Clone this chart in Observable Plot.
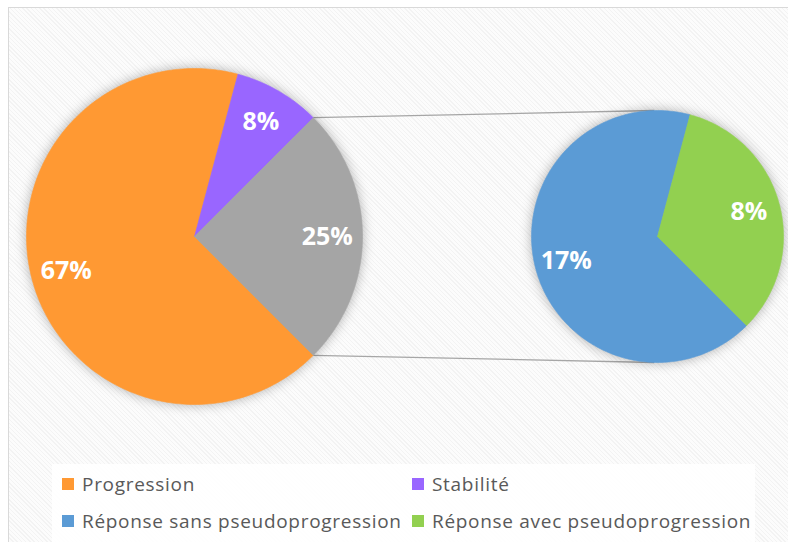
<!DOCTYPE html>
<html>
<head>
<meta charset="utf-8">
<script src="https://cdn.jsdelivr.net/npm/d3@7"></script>
<script src="https://cdn.jsdelivr.net/npm/@observablehq/plot@0.6"></script>
<style>
  html, body { margin: 0; padding: 0; width: 788px; height: 542px; overflow: hidden; background: #fff; }
  #frame {
    position: absolute; left: 8px; top: 7px; width: 800px; height: 560px;
    border: 1px solid #d9d9d9;
    background: repeating-linear-gradient(45deg, #f3f3f3 0px, #f3f3f3 1px, #fcfcfc 1px, #fcfcfc 3px);
  }
  #chart { position: absolute; left: 0; top: 0; }
  #chart g[aria-label="line"] { filter: drop-shadow(0 0 6px rgba(0,0,0,0.3)); }
  #legendbox { position: absolute; left: 52px; top: 464px; width: 703px; height: 80px; background: rgba(255,255,255,0.85); }
  .item { position: absolute; display: flex; align-items: center; font-family: "Open Sans", sans-serif; font-size: 19px; letter-spacing: 0.7px; line-height: 20px; color: #595959; white-space: nowrap; }
  .sw { width: 12px; height: 12px; margin-right: 8px; }
</style>
</head>
<body>
<div id="frame"></div>
<div id="legendbox"></div>
<div id="chart"></div>
<div id="legend"></div>
<script>
// ---- data ----
const mainCategories = ["Progression", "Stabilité", "Réponse"];
const mainValues = [8, 1, 3];
const subCategories = ["Réponse sans pseudoprogression", "Réponse avec pseudoprogression"];
const subValues = [2, 1];
const legendLabels = ["Progression", "Stabilité", "Réponse sans pseudoprogression", "Réponse avec pseudoprogression"];
const colorDomain = ["Progression", "Stabilité", "Réponse", "Réponse sans pseudoprogression", "Réponse avec pseudoprogression"];
const colorRange = ["#ff9933", "#9966ff", "#a5a5a5", "#5b9bd5", "#92d050"];

// ---- layout (units: main radius = 1) ----
const W = 788, H = 460;
const k = 168;            // px per unit
const cx0 = 194, cy0 = 236; // main pie center in px (for domain)
const subCx = 2.756, subR = 0.75;
const total = d3.sum(mainValues);
const start = 3 * Math.PI / 4;

const pie = d3.pie().sort(null).startAngle(start).endAngle(start + 2 * Math.PI);

function slicePoints(arc, name, cx, r) {
  const pts = [{name, x: cx, y: 0}];
  const n = Math.max(2, Math.ceil((arc.endAngle - arc.startAngle) / (Math.PI / 180)));
  for (let i = 0; i <= n; i++) {
    const a = arc.startAngle + (arc.endAngle - arc.startAngle) * i / n;
    pts.push({name, x: cx + r * Math.sin(a), y: r * Math.cos(a)});
  }
  pts.push({name, x: cx, y: 0});
  return pts;
}

const mainArcs = pie(mainValues);
const subArcs = pie(subValues);
const slices = [
  ...mainArcs.flatMap((a, i) => slicePoints(a, mainCategories[i], 0, 1)),
  ...subArcs.flatMap((a, i) => slicePoints(a, subCategories[i], subCx, subR))
];

const fmt = v => Math.round(v / total * 100) + "%";
const labels = [
  ...mainArcs.map((a, i) => {
    const m = (a.startAngle + a.endAngle) / 2;
    return {x: 0.79 * Math.sin(m), y: 0.79 * Math.cos(m), text: fmt(mainValues[i])};
  }),
  ...subArcs.map((a, i) => {
    const m = (a.startAngle + a.endAngle) / 2;
    return {x: subCx + subR * 0.75 * Math.sin(m), y: subR * 0.75 * Math.cos(m), text: fmt(subValues[i])};
  })
];

const other = mainArcs[2];
const links = [
  {x1: Math.sin(other.startAngle), y1: Math.cos(other.startAngle), x2: subCx - 0.02, y2: subR},
  {x1: Math.sin(other.endAngle), y1: Math.cos(other.endAngle), x2: subCx - 0.02, y2: -subR}
];

const plot = Plot.plot({
  width: W, height: H,
  margin: 0,
  style: {background: "transparent"},
  x: {domain: [-cx0 / k, (W - cx0) / k], axis: null},
  y: {domain: [-(H - cy0) / k, cy0 / k], axis: null},
  color: {domain: colorDomain, range: colorRange},
  marks: [
    Plot.link(links, {x1: "x1", y1: "y1", x2: "x2", y2: "y2", stroke: "#a6a6a6", strokeWidth: 1.3}),
    Plot.line(slices, {x: "x", y: "y", z: "name", fill: "name", stroke: "name", strokeWidth: 0.6}),
    Plot.text(labels, {x: "x", y: "y", text: "text", fill: "white", fontSize: 25, fontWeight: "bold", fontFamily: "Open Sans"})
  ]
});
document.getElementById("chart").appendChild(plot);

// ---- legend ----
const pos = [[62, 474], [412, 474], [62, 511], [412, 511]];
const legend = document.getElementById("legend");
legendLabels.forEach((lab, i) => {
  const d = document.createElement("div");
  d.className = "item";
  d.style.left = pos[i][0] + "px";
  d.style.top = pos[i][1] + "px";
  const sw = document.createElement("span");
  sw.className = "sw";
  sw.style.background = colorRange[colorDomain.indexOf(lab)];
  const t = document.createElement("span");
  t.textContent = lab;
  d.appendChild(sw); d.appendChild(t);
  legend.appendChild(d);
});
</script>
</body>
</html>
